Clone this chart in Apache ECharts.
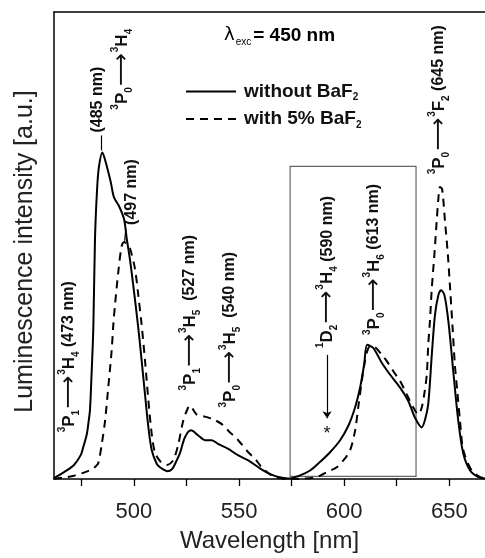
<!DOCTYPE html>
<html>
<head>
<meta charset="utf-8">
<script src="https://cdn.jsdelivr.net/npm/echarts@6/dist/echarts.min.js"></script>
<style>
  html, body { margin: 0; padding: 0; background: #fff; }
  #chart { width: 485px; height: 558px; }
</style>
</head>
<body>
<div id="chart"></div>
<script>
// Emission spectra, excitation at 450 nm; intensities normalised to the 485 nm band of the undoped sample.
const withoutBaF2 = [
  [462.0, 0.3], [466.8, 2.1], [471.5, 4.3], [474.7, 7.3], [475.9, 9.7], [477.6, 13.7],
  [478.4, 17.3], [479.1, 21.0], [479.8, 31.0], [480.7, 46.2], [481.5, 73.6], [482.5, 88.8],
  [483.4, 95.7], [485.0, 100], [486.6, 97.0], [489.0, 90.9], [490.5, 86.3], [492.9, 83.6],
  [495.3, 79.6], [496.6, 73.6], [498.2, 66.9], [499.7, 59.3], [502.1, 46.2], [503.7, 36.2],
  [505.3, 25.8], [506.9, 15.8], [508.5, 8.8], [510.9, 4.6], [512.4, 3.6], [514.1, 2.9],
  [515.8, 2.4], [518.1, 3.0], [520.0, 5.2], [521.9, 7.9], [524.3, 12.8], [527.2, 14.9],
  [530.5, 13.4], [533.8, 11.9], [537.0, 11.9], [540.2, 10.7], [544.9, 9.2], [549.7, 7.2],
  [554.4, 5.7], [559.2, 3.6], [563.9, 1.8], [568.7, 0.6], [573.3, 0.15], [579.0, 1.1],
  [583.8, 2.6], [588.5, 5.2], [593.3, 8.2], [598.0, 11.8], [602.0, 16.3], [605.2, 21.9],
  [607.6, 28.0], [609.5, 35.0], [611.0, 41.1], [613.9, 40.1], [617.9, 35.6], [621.8, 32.0],
  [626.6, 28.0], [630.5, 23.9], [633.7, 18.8], [636.9, 15.8], [638.5, 18.2], [640.0, 22.9],
  [641.7, 38.1], [643.2, 50.2], [644.8, 56.3], [646.1, 57.8], [647.7, 56.3], [649.6, 48.2],
  [651.9, 33.0], [654.3, 17.8], [656.7, 7.7], [659.9, 2.6], [663.8, 0.6], [667.0, 0.15]
];

const with5BaF2 = [
  [462.0, 0.15], [467.2, 0.5], [472.0, 1.1], [476.8, 2.1], [480.1, 3.0], [482.0, 4.0],
  [483.1, 4.9], [484.7, 10.6], [486.3, 17.9], [487.8, 28.0], [489.4, 39.2], [490.2, 47.1],
  [491.0, 53.2], [492.6, 63.5], [494.2, 71.4], [495.4, 72.6], [496.7, 72.0], [498.2, 70.5],
  [500.5, 64.4], [502.1, 56.2], [503.7, 47.1], [505.3, 36.2], [506.9, 24.0], [508.5, 13.7],
  [510.0, 8.2], [512.4, 5.5], [515.6, 4.3], [518.7, 5.8], [521.1, 10.6], [523.5, 17.9],
  [525.8, 21.9], [526.6, 22.5], [529.8, 19.8], [533.8, 19.1], [537.7, 18.3], [541.8, 16.8],
  [544.9, 14.8], [549.7, 11.8], [554.4, 8.2], [557.6, 6.2], [560.8, 3.6], [565.6, 1.1],
  [570.3, 0.15], [574.3, 0], [580.4, 0.1], [587.0, 0.6], [591.7, 2.1], [596.5, 3.6],
  [599.6, 5.7], [602.8, 8.7], [605.2, 14.8], [606.7, 21.9], [608.4, 30.0], [609.9, 36.1],
  [611.5, 40.1], [613.1, 40.8], [614.7, 40.4], [617.9, 38.1], [620.3, 36.1], [623.4, 33.0],
  [626.6, 30.0], [629.8, 25.9], [632.9, 21.9], [635.3, 19.8], [636.9, 21.9], [638.2, 26.4],
  [639.3, 31.9], [640.0, 41.0], [640.8, 48.3], [641.7, 58.4], [642.9, 68.5], [644.0, 78.7],
  [644.8, 85.7], [645.6, 89.4], [646.6, 88.8], [648.0, 78.7], [649.3, 69.0], [650.4, 58.4],
  [651.6, 46.2], [652.7, 34.7], [653.9, 26.4], [655.1, 17.9], [656.7, 8.8], [660.7, 2.6],
  [664.6, 0.6], [667.0, 0.3]
];

const wavelengthTicks = [475, 500, 525, 550, 575, 600, 625, 650];
const wavelengthLabels = [500, 550, 600, 650];

const seriesNames = ['without BaF2', 'with 5% BaF2'];

// Transition assignments: text and the point (wavelength, intensity) where each rotated label starts.
const transitions = [
  { text: '{sup|3}{t|P}{sub|1}{ar|⟶}{sup|3}{t|H}{sub|4}{nm| (473 nm)}', at: [469.1, 14.3] },
  { text: '{nm|(485 nm)}', at: [482.7, 106.1] },
  { text: '{sup|3}{t|P}{sub|0}{ar|⟶}{sup|3}{t|H}{sub|4}', at: [494.3, 113.1] },
  { text: '{nm|(497 nm)}', at: [499.1, 77.8] },
  { text: '{sup|3}{t|P}{sub|1}{ar|⟶}{sup|3}{t|H}{sub|5}{nm|  (527 nm)}', at: [526.7, 27.1] },
  { text: '{sup|3}{t|P}{sub|0}{ar|⟶}{sup|3}{t|H}{sub|5}{nm|  (540 nm)}', at: [545.7, 21.9] },
  { text: '{sup|1}{t|D}{sub|2}{ar|⟶}{sup|3}{t|H}{sub|4}{nm| (590 nm)}', at: [591.9, 40.1] },
  { text: '{sup|3}{t|P}{sub|0}{ar|⟶}{sup|3}{t|H}{sub|6}{nm| (613 nm)}', at: [614.2, 44.1] },
  { text: '{sup|3}{t|P}{sub|0}{ar|⟶}{sup|3}{t|F}{sub|2}{nm| (645 nm)}', at: [645.1, 93.3] }
];
const starMark = { text: '*', at: [591.9, 13.7] };

const FONT = 'Liberation Sans, Arial, Helvetica, sans-serif';
const INK = '#111';

const labelRich = {
  t:   { fontSize: 17, fontWeight: 'bold', lineHeight: 24, verticalAlign: 'middle', fontFamily: FONT, color: INK },
  sup: { fontSize: 10, fontWeight: 'bold', lineHeight: 10, verticalAlign: 'top', fontFamily: FONT, color: INK },
  sub: { fontSize: 10, fontWeight: 'bold', lineHeight: 10, verticalAlign: 'bottom', fontFamily: FONT, color: INK },
  ar:  { fontSize: 23, lineHeight: 24, verticalAlign: 'middle', fontFamily: 'DejaVu Sans', color: INK, padding: [0, 1, 0, 1] },
  nm:  { fontSize: 16, fontWeight: 'bold', lineHeight: 24, verticalAlign: 'middle', fontFamily: FONT, color: INK }
};

const chart = echarts.init(document.getElementById('chart'), null, { renderer: 'canvas' });

const xAxisBase = { type: 'value', min: 462, max: 667, splitLine: { show: false } };

const option = {
  animation: false,
  backgroundColor: '#fff',
  textStyle: { fontFamily: FONT },
  grid: { left: 54, right: 0, top: 12, bottom: 76, containLabel: false },
  xAxis: [
    Object.assign({}, xAxisBase, {
      position: 'bottom',
      axisLine: { show: true, lineStyle: { color: '#000', width: 1.5 } },
      axisTick: { show: true, customValues: wavelengthTicks, length: 7, inside: false,
                  lineStyle: { color: '#000', width: 1.3 } },
      axisLabel: { show: true, customValues: wavelengthLabels, fontSize: 22, margin: 22,
                   color: '#222', fontFamily: FONT },
      name: 'Wavelength [nm]', nameLocation: 'middle', nameGap: 50,
      nameTextStyle: { fontSize: 24, color: '#222', fontFamily: FONT }
    }),
    Object.assign({}, xAxisBase, {
      position: 'top',
      axisLine: { show: true, lineStyle: { color: '#000', width: 1.5 } },
      axisTick: { show: false }, axisLabel: { show: false }
    })
  ],
  yAxis: {
    type: 'value', min: 0, max: 143,
    axisLine: { show: true, lineStyle: { color: '#000', width: 1.5 } },
    axisTick: { show: false }, axisLabel: { show: false }, splitLine: { show: false },
    name: 'Luminescence intensity [a.u.]', nameLocation: 'middle', nameGap: 16,
    nameTextStyle: { fontSize: 25, color: '#222', fontFamily: FONT, padding: [0, 12, 0, 0] }
  },
  legend: {
    orient: 'vertical', left: 185, top: 82, padding: 0,
    itemWidth: 50, itemHeight: 14, itemGap: 7,
    data: seriesNames,
    itemStyle: { color: 'rgba(0,0,0,0)', borderWidth: 0, opacity: 0 },
    formatter: name => name === seriesNames[0] ? '{b|without BaF}{s|2}' : '{b|with 5% BaF}{s|2}',
    textStyle: {
      padding: [0, 0, 0, 3],
      rich: {
        b: { fontSize: 19, fontWeight: 'bold', lineHeight: 22, color: INK, fontFamily: FONT, verticalAlign: 'middle' },
        s: { fontSize: 10, fontWeight: 'bold', lineHeight: 10, color: INK, fontFamily: FONT, verticalAlign: 'bottom' }
      }
    }
  },
  series: [
    {
      name: seriesNames[0], type: 'line', xAxisIndex: 0, yAxisIndex: 0,
      data: withoutBaF2, showSymbol: false, symbol: 'none', smooth: 0.3,
      lineStyle: { color: '#000', width: 2, type: 'solid' },
      itemStyle: { color: '#000' },
      markArea: {
        silent: true,
        itemStyle: { color: 'rgba(0,0,0,0)', borderColor: '#666', borderWidth: 1.2 },
        label: { show: false },
        data: [[{ coord: [574.3, 0.8] }, { coord: [634.2, 95.7] }]]
      },
      markLine: {
        silent: true, symbol: ['none', 'none'], symbolSize: 7,
        label: { show: false },
        lineStyle: { color: '#000', width: 1.2, type: 'solid' },
        data: [
          [{ coord: [484.7, 100.6] }, { coord: [484.7, 105.2] }],
          [{ coord: [495.6, 72.9] }, { coord: [496.2, 76.6] }],
          [{ coord: [591.9, 38.0], symbol: 'none' }, { coord: [591.9, 18.6], symbol: 'arrow' }]
        ]
      }
    },
    {
      name: seriesNames[1], type: 'line', xAxisIndex: 0, yAxisIndex: 0,
      data: with5BaF2, showSymbol: false, symbol: 'none', smooth: 0.3,
      lineStyle: { color: '#000', width: 2, type: [8, 6] },
      itemStyle: { color: '#000' }
    }
  ]
};

chart.setOption(option);

// Rotated transition labels, the asterisk and the excitation note.
function toPx(pt) {
  return chart.convertToPixel({ xAxisIndex: 0, yAxisIndex: 0 }, pt);
}
const graphics = transitions.map(tr => {
  const p = toPx(tr.at);
  return {
    type: 'text', x: p[0], y: p[1], rotation: Math.PI / 2, silent: true,
    style: { text: tr.text, rich: labelRich, align: 'left', verticalAlign: 'middle', fill: INK }
  };
});
const sp = toPx(starMark.at);
graphics.push({
  type: 'text', x: sp[0], y: sp[1], silent: true,
  style: { text: starMark.text, fontSize: 18, fontFamily: FONT, fill: INK, align: 'center', verticalAlign: 'middle' }
});
graphics.push({
  type: 'text', left: 224, top: 26, silent: true,
  style: {
    text: '{l|λ}{s|exc}{b|= 450 nm}',
    rich: {
      l: { fontSize: 18, lineHeight: 24, fontFamily: 'DejaVu Sans', color: INK, verticalAlign: 'middle' },
      s: { fontSize: 10, lineHeight: 10, fontFamily: FONT, color: INK, verticalAlign: 'bottom', padding: [0, 2, 0, 1] },
      b: { fontSize: 19, fontWeight: 'bold', lineHeight: 24, fontFamily: FONT, color: INK, verticalAlign: 'middle' }
    }
  }
});
chart.setOption({ graphic: graphics });
</script>
</body>
</html>
